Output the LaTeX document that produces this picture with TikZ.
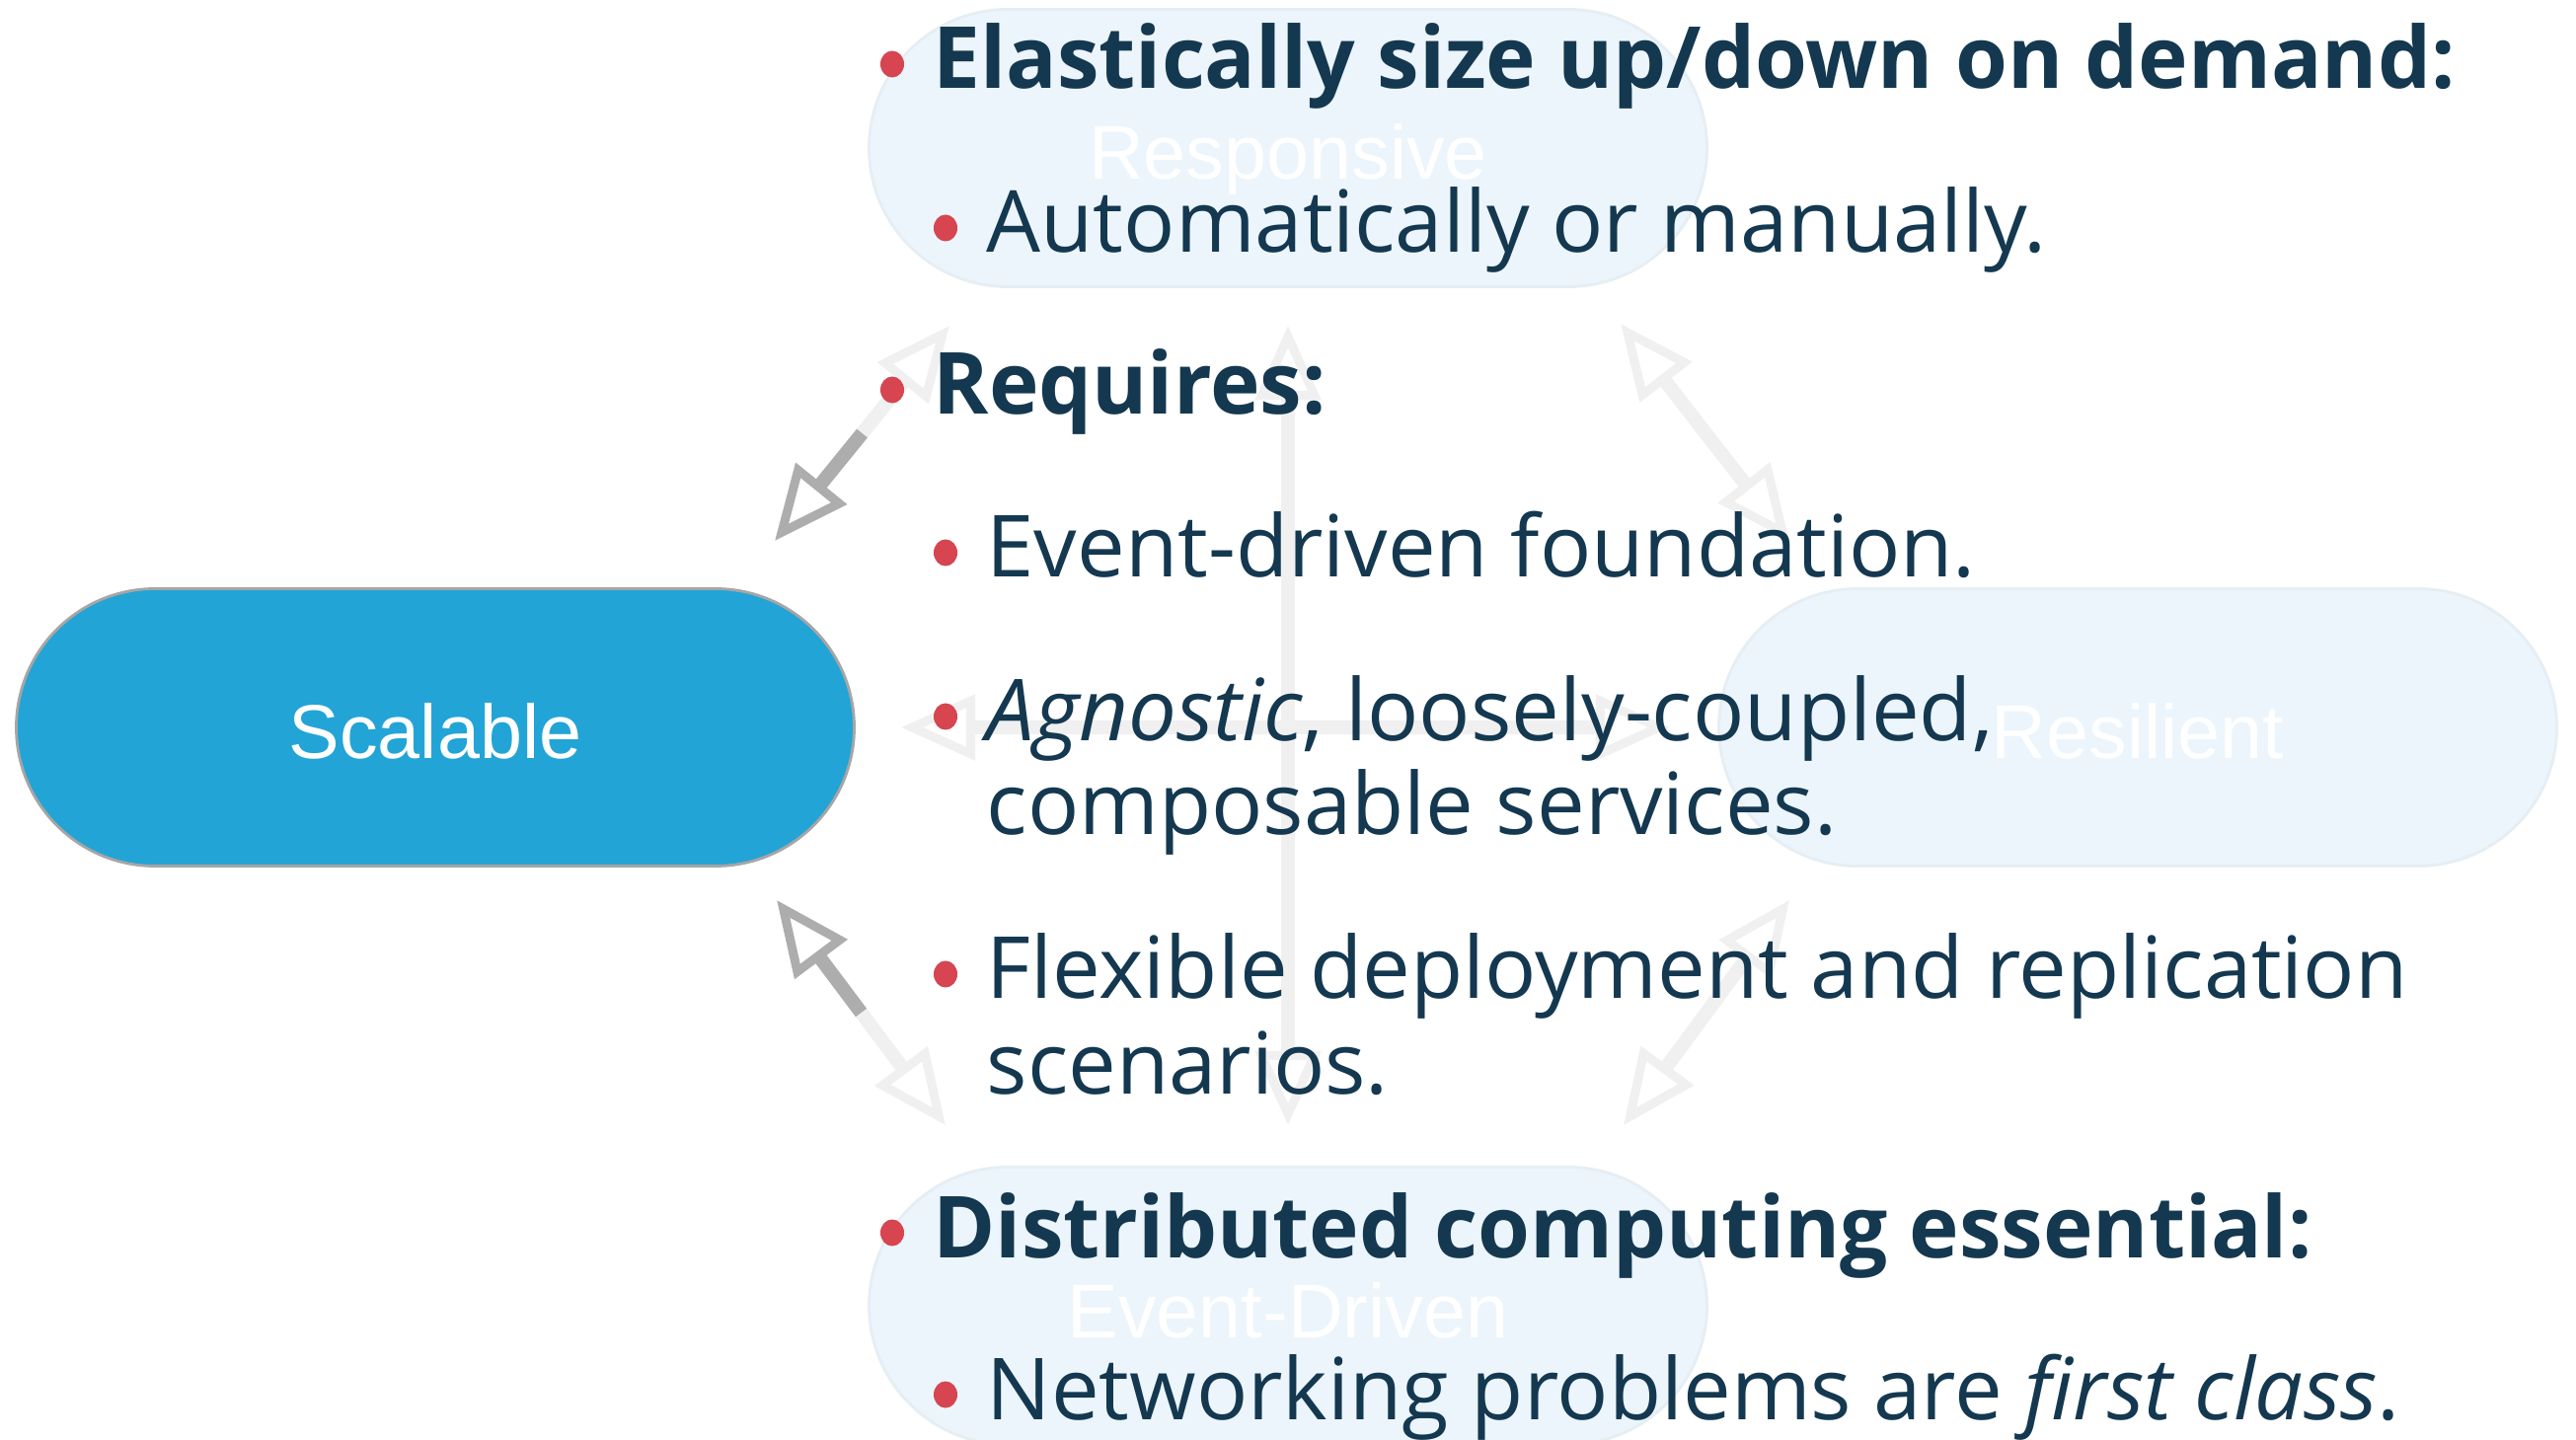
\documentclass[tikz,border=0pt]{standalone}
\usepackage{fontspec}
\usepackage{xcolor}
\usepackage{tikz}
\setmainfont{Open Sans}[BoldFeatures={FakeStretch=0.985}]
\newfontfamily\labelfamily{Liberation Sans}
\usetikzlibrary{shapes.misc,shapes.geometric,arrows.meta,positioning,calc}

\definecolor{scalblue}{RGB}{34,164,214}
\definecolor{paleblue}{RGB}{236,245,251}
\definecolor{paleedge}{RGB}{230,238,243}
\definecolor{navy}{RGB}{20,56,80}
\definecolor{bulletred}{RGB}{214,69,80}

\tikzset{
    trait/.style={rounded rectangle, minimum width=8.49cm, minimum height=2.81cm, inner sep=0pt,
        text height=0.66cm, text depth=0.02cm,
        font=\labelfamily\fontsize{22}{26}\selectfont, text=white},
    faded/.style={trait, fill=paleblue, draw=paleedge, line width=0.8pt},
    active/.style={trait, fill=scalblue, draw=gray!70, line width=0.8pt},
    link/.style={line width=1.4mm, -{Triangle[open, length=7.5mm, width=6.5mm, line width=0.9mm]}},
    faint/.style={link, draw=black!6},
    strong/.style={link, draw=black!32},
    bull/.style={ellipse, fill=bulletred, inner sep=0pt, minimum width=.24cm, minimum height=.27cm},
    item/.style={anchor=base west, inner sep=0pt, text=navy, font=\fontsize{24.7}{26}\selectfont},
}

\begin{document}
\begin{tikzpicture}
    \path[fill=white] (0,0) rectangle (26.1,-14.59);
    \useasboundingbox (0,0) rectangle (26.1,-14.59);

    % Four traits
    \node[faded] (resp) at (13.05,-1.50) {Responsive};
    \node[faded] (resil) at (21.66,-7.37) {Resilient};
    \node[faded] (event) at (13.05,-13.23) {Event-Driven};
    \node[active] (scal) at (4.41,-7.37) {Scalable};

    % Arrow ends
    \coordinate (a1) at ($(scal)+(3.44,1.89)$);
    \coordinate (a1f) at ($(resp)+(-3.43,-1.80)$);
    \coordinate (a2) at ($(scal)+(3.46,-1.75)$);
    \coordinate (a2f) at ($(event)+(-3.47,1.83)$);
    \coordinate (a3) at ($(resp)+(3.37,-1.78)$);
    \coordinate (a3f) at ($(resil)+(-3.53,1.89)$);
    \coordinate (a4) at ($(resil)+(-3.53,-1.75)$);
    \coordinate (a4f) at ($(event)+(3.40,1.83)$);
    \coordinate (v1) at ($(resp)+(0,-1.80)$);
    \coordinate (v2) at ($(event)+(0,1.83)$);
    \coordinate (h1) at ($(scal)+(4.72,0)$);
    \coordinate (h2) at ($(resil)+(-4.74,0)$);
    \coordinate (m1) at ($(a1)!0.5!(a1f)$);
    \coordinate (m2) at ($(a2)!0.5!(a2f)$);
    \coordinate (m3) at ($(a3)!0.5!(a3f)$);
    \coordinate (m4) at ($(a4)!0.5!(a4f)$);
    \coordinate (mv) at ($(v1)!0.5!(v2)$);
    \coordinate (mh) at ($(h1)!0.5!(h2)$);

    % Faint links
    \draw[faint] (m1) -- (a1f);
    \draw[faint] (m2) -- (a2f);
    \draw[faint] (m3) -- (a3); \draw[faint] (m3) -- (a3f);
    \draw[faint] (m4) -- (a4); \draw[faint] (m4) -- (a4f);
    \draw[faint] (mv) -- (v1); \draw[faint] (mv) -- (v2);
    \draw[faint] (mh) -- (h1); \draw[faint] (mh) -- (h2);

    % Links into Scalable
    \draw[strong] (m1) -- (a1);
    \draw[strong] (m2) -- (a2);

    % Bullet text
    \node[item] (t1) at (9.45,-0.90) {\textbf{Elastically size up/down on demand:}};
    \node[item] (t2) at (9.99,-2.56) {Automatically or manually.};
    \node[item] (t3) at (9.45,-4.20) {\textbf{Requires:}};
    \node[item] (t4) at (9.99,-5.85) {Event-driven foundation.};
    \node[item] (t5) at (9.99,-7.51) {\textit{Agnostic}, loosely-coupled,};
    \node[item] (t5b) at (9.99,-8.46) {composable services.};
    \node[item] (t6) at (9.99,-10.12) {Flexible deployment and replication};
    \node[item] (t6b) at (9.99,-11.08) {scenarios.};
    \node[item] (t7) at (9.45,-12.74) {\textbf{Distributed computing essential:}};
    \node[item] (t8) at (9.99,-14.38) {Networking problems are \textit{first class}.};

    % Bullets
    \foreach \t in {t1,t2,t3,t4,t5,t6,t7,t8}
        \node[bull] (b\t) at ($(\t.base west)+(-0.41,0.25)$) {};

\end{tikzpicture}
\end{document}
